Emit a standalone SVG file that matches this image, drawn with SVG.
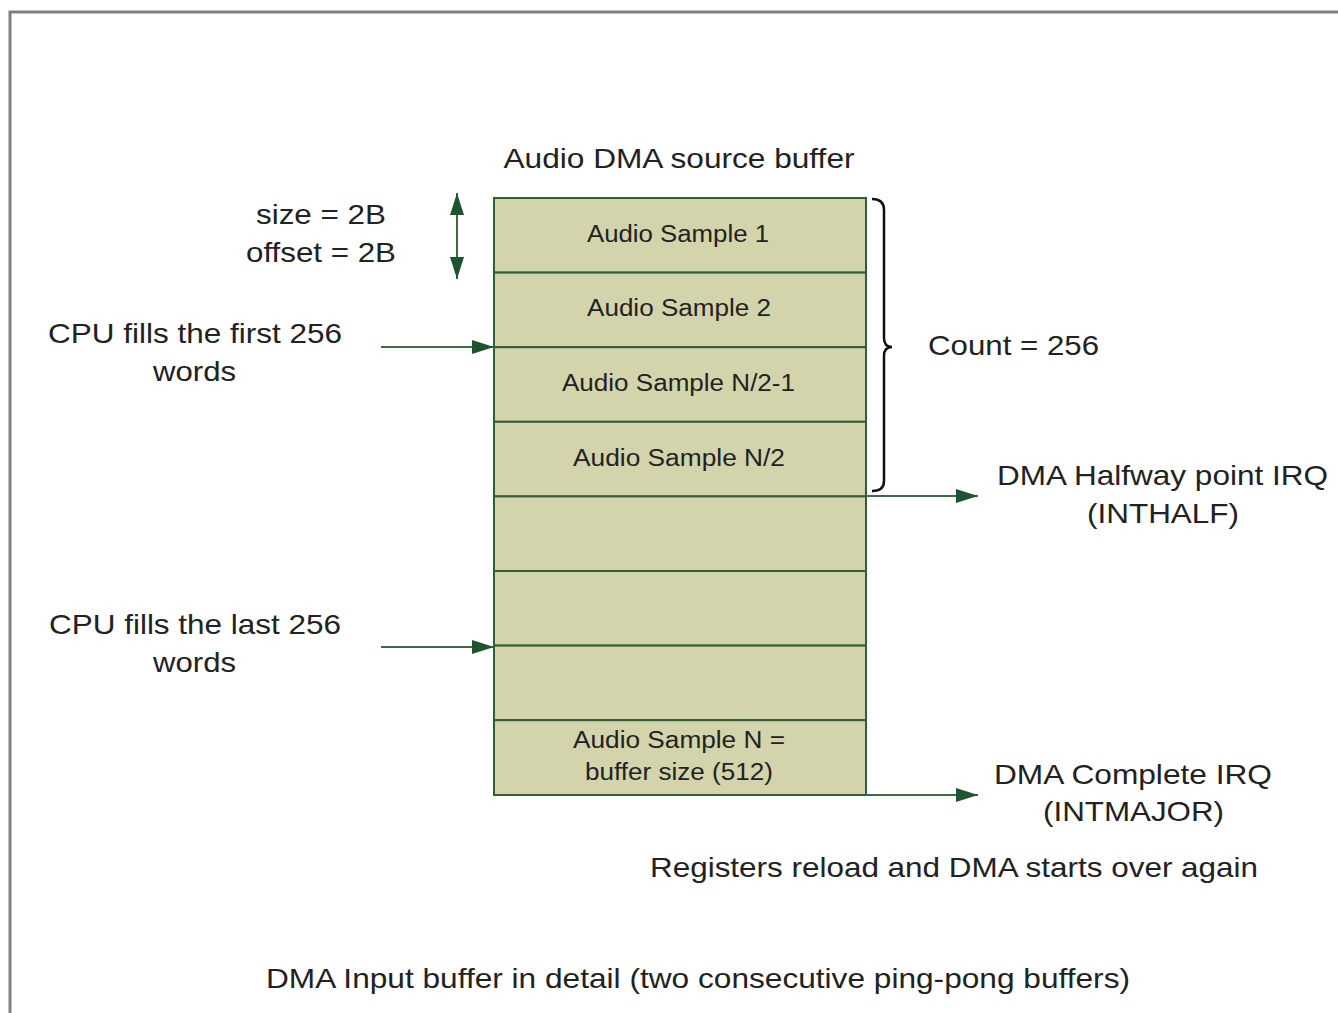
<svg xmlns="http://www.w3.org/2000/svg" width="1338" height="1013" viewBox="0 0 1338 1013">
<defs>
<style>
text{font-family:"Liberation Sans",Arial,sans-serif;fill:#222}
.big{font-size:28px}
.cell{font-size:23px}
.row{fill:#d3d4ab;stroke:#2f5e3a;stroke-width:2}
.conn{stroke:#3d6b48;stroke-width:2;fill:none}
</style>
<marker id="ah2" viewBox="0 0 10 10" refX="10" refY="5" markerWidth="22" markerHeight="14" preserveAspectRatio="none" orient="auto-start-reverse" markerUnits="userSpaceOnUse">
<path d="M0,0 L10,5 L0,10 z" fill="#1e5430"/>
</marker>
</defs>
<rect width="1338" height="1013" fill="#fff"/>
<path d="M10,1013 V12 H1338" fill="none" stroke="#808080" stroke-width="3"/>
<text class="big" x="679" y="168" text-anchor="middle" textLength="351" lengthAdjust="spacingAndGlyphs">Audio DMA source buffer</text>
<g id="buffer">
<rect class="row" x="494" y="198" width="372" height="74.6"/>
<rect class="row" x="494" y="272.6" width="372" height="74.6"/>
<rect class="row" x="494" y="347.2" width="372" height="74.6"/>
<rect class="row" x="494" y="421.8" width="372" height="74.6"/>
<rect class="row" x="494" y="496.4" width="372" height="74.6"/>
<rect class="row" x="494" y="571" width="372" height="74.6"/>
<rect class="row" x="494" y="645.6" width="372" height="74.6"/>
<rect class="row" x="494" y="720.2" width="372" height="74.8"/>
<text class="cell" x="678" y="242" text-anchor="middle" textLength="182" lengthAdjust="spacingAndGlyphs">Audio Sample 1</text>
<text class="cell" x="679" y="316" text-anchor="middle" textLength="184" lengthAdjust="spacingAndGlyphs">Audio Sample 2</text>
<text class="cell" x="678.5" y="391" text-anchor="middle" textLength="233" lengthAdjust="spacingAndGlyphs">Audio Sample N/2-1</text>
<text class="cell" x="679" y="466" text-anchor="middle" textLength="212" lengthAdjust="spacingAndGlyphs">Audio Sample N/2</text>
<text class="cell" x="679" y="748" text-anchor="middle" textLength="212" lengthAdjust="spacingAndGlyphs">Audio Sample N =</text>
<text class="cell" x="679" y="780" text-anchor="middle" textLength="188" lengthAdjust="spacingAndGlyphs">buffer size (512)</text>
</g>
<g id="size-label">
<text class="big" x="321" y="224" text-anchor="middle" textLength="130" lengthAdjust="spacingAndGlyphs">size = 2B</text>
<text class="big" x="321" y="262" text-anchor="middle" textLength="150" lengthAdjust="spacingAndGlyphs">offset = 2B</text>
</g>
<g id="cpu-first">
<text class="big" x="195" y="343" text-anchor="middle" textLength="294" lengthAdjust="spacingAndGlyphs">CPU fills the first 256</text>
<text class="big" x="194.5" y="381" text-anchor="middle" textLength="83" lengthAdjust="spacingAndGlyphs">words</text>
</g>
<g id="cpu-last">
<text class="big" x="195" y="634" text-anchor="middle" textLength="292" lengthAdjust="spacingAndGlyphs">CPU fills the last 256</text>
<text class="big" x="194.5" y="672" text-anchor="middle" textLength="83" lengthAdjust="spacingAndGlyphs">words</text>
</g>
<g id="count">
<path d="M872,199 Q884,199 884,210 V338 Q884,347 892,347 Q884,347 884,356 V481 Q884,491 872,491" fill="none" stroke="#111" stroke-width="2.5"/>
<text class="big" x="928" y="355" textLength="171" lengthAdjust="spacingAndGlyphs">Count = 256</text>
</g>
<g id="halfway">
<text class="big" x="1162.5" y="485" text-anchor="middle" textLength="331" lengthAdjust="spacingAndGlyphs">DMA Halfway point IRQ</text>
<text class="big" x="1163" y="523" text-anchor="middle" textLength="152" lengthAdjust="spacingAndGlyphs">(INTHALF)</text>
</g>
<g id="complete">
<text class="big" x="1133" y="784" text-anchor="middle" textLength="278" lengthAdjust="spacingAndGlyphs">DMA Complete IRQ</text>
<text class="big" x="1133.5" y="821" text-anchor="middle" textLength="181" lengthAdjust="spacingAndGlyphs">(INTMAJOR)</text>
<text class="big" x="954" y="877" text-anchor="middle" textLength="608" lengthAdjust="spacingAndGlyphs">Registers reload and DMA starts over again</text>
</g>
<text class="big" x="698" y="988" text-anchor="middle" textLength="864" lengthAdjust="spacingAndGlyphs">DMA Input buffer in detail (two consecutive ping-pong buffers)</text>
<g id="connectors">
<line class="conn" x1="457" y1="193" x2="457" y2="279" marker-start="url(#ah2)" marker-end="url(#ah2)" stroke-width="2.5"/>
<line class="conn" x1="381" y1="347" x2="494" y2="347" marker-end="url(#ah2)"/>
<line class="conn" x1="381" y1="647" x2="494" y2="647" marker-end="url(#ah2)"/>
<line class="conn" x1="866" y1="496" x2="978" y2="496" marker-end="url(#ah2)"/>
<line class="conn" x1="866" y1="795" x2="978" y2="795" marker-end="url(#ah2)"/>
</g>
</svg>
